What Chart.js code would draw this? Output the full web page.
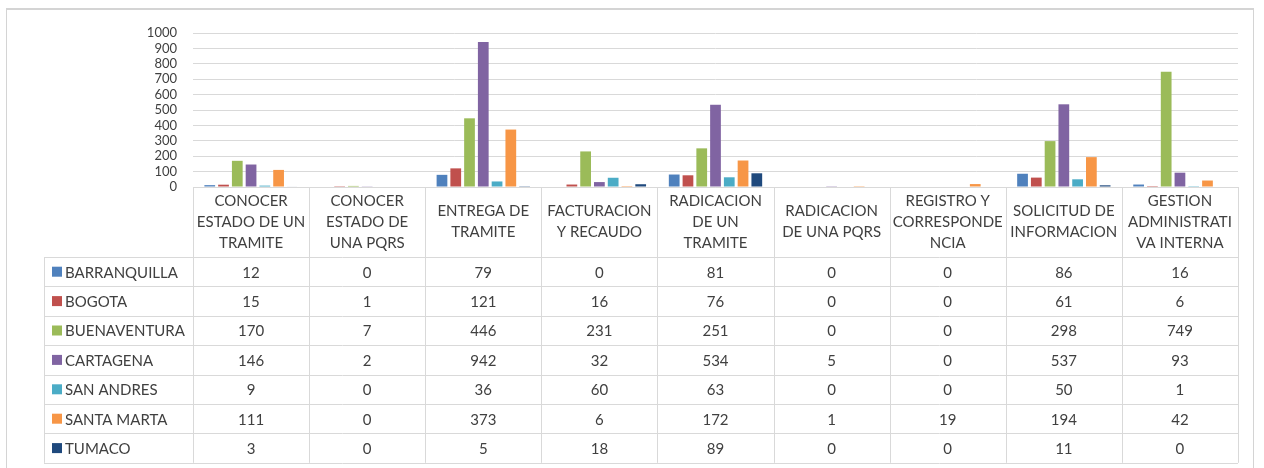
<!DOCTYPE html>
<html>
<head>
<meta charset="utf-8">
<script src="https://cdn.jsdelivr.net/npm/chart.js@4/dist/chart.umd.min.js"></script>
<style>
  body { margin: 0; background: #fff; }
  #marco { position: absolute; left: 6px; top: 8px; width: 1246px; height: 470px; border: 1px solid #d4d4d4; border-top-width: 2px; }
  #grafico { position: absolute; left: 0; top: 0; }
</style>
</head>
<body>
<div id="marco"></div>
<canvas id="grafico" width="1264" height="468"></canvas>
<script>
// categorias (ya partidas en lineas como en la tabla de Excel)
const categorias = [
  ['CONOCER', 'ESTADO DE UN', 'TRAMITE'],
  ['CONOCER', 'ESTADO DE', 'UNA PQRS'],
  ['ENTREGA DE', 'TRAMITE'],
  ['FACTURACION', 'Y RECAUDO'],
  ['RADICACION', 'DE UN', 'TRAMITE'],
  ['RADICACION', 'DE UNA PQRS'],
  ['REGISTRO Y', 'CORRESPONDE', 'NCIA'],
  ['SOLICITUD DE', 'INFORMACION'],
  ['GESTION', 'ADMINISTRATI', 'VA INTERNA']
];

const barranquilla = [12, 0, 79, 0, 81, 0, 0, 86, 16];
const bogota       = [15, 1, 121, 16, 76, 0, 0, 61, 6];
const buenaventura = [170, 7, 446, 231, 251, 0, 0, 298, 749];
const cartagena    = [146, 2, 942, 32, 534, 5, 0, 537, 93];
const sanAndres    = [9, 0, 36, 60, 63, 0, 0, 50, 1];
const santaMarta   = [111, 0, 373, 6, 172, 1, 19, 194, 42];
const tumaco       = [3, 0, 5, 18, 89, 0, 0, 11, 0];

const sedes = ['BARRANQUILLA', 'BOGOTA', 'BUENAVENTURA', 'CARTAGENA', 'SAN ANDRES', 'SANTA MARTA', 'TUMACO'];
const valores = [barranquilla, bogota, buenaventura, cartagena, sanAndres, santaMarta, tumaco];
const colores = ['#4F81BD', '#C0504D', '#9BBB59', '#8064A2', '#4BACC6', '#F79646', '#1F497D'];

const marcasY = [0, 100, 200, 300, 400, 500, 600, 700, 800, 900, 1000];

const FUENTE = 'Lato, "Open Sans", sans-serif';

// dibuja la tabla de datos debajo del grafico usando la escala x
const tablaDatos = {
  id: 'tablaDatos',
  afterDraw(chart) {
    const ctx = chart.ctx;
    const area = chart.chartArea;
    const xs = chart.scales.x;
    const paso = (area.right - area.left) / categorias.length;
    const arriba = Math.round(area.bottom);
    const altoCab = 70;
    const altoFila = 29.4;
    const izq = 44;
    const finCab = arriba + altoCab;
    const abajo = finCab + altoFila * sedes.length;

    ctx.save();
    ctx.strokeStyle = '#d9d9d9';
    ctx.lineWidth = 1;
    ctx.beginPath();
    // lineas horizontales
    ctx.moveTo(area.left, arriba + 0.5); ctx.lineTo(area.right, arriba + 0.5);
    for (let f = 0; f <= sedes.length; f++) {
      const y = Math.round(finCab + f * altoFila) + 0.5;
      ctx.moveTo(izq, y); ctx.lineTo(area.right, y);
    }
    // lineas verticales
    ctx.moveTo(izq + 0.5, finCab); ctx.lineTo(izq + 0.5, abajo);
    for (let c = 0; c <= categorias.length; c++) {
      const x = Math.round(area.left + c * paso) + 0.5;
      ctx.moveTo(x, arriba); ctx.lineTo(x, abajo);
    }
    ctx.stroke();

    ctx.fillStyle = '#404040';
    ctx.font = '15px ' + FUENTE;
    ctx.textAlign = 'center';
    ctx.textBaseline = 'middle';
    categorias.forEach((lineas, i) => {
      const cx = xs.getPixelForValue(i);
      const y0 = arriba + altoCab / 2 - (lineas.length - 1) * 21 / 2;
      lineas.forEach((t, k) => ctx.fillText(t, cx, y0 + k * 21));
    });

    sedes.forEach((nombre, f) => {
      const cy = finCab + f * altoFila + altoFila / 2;
      ctx.fillStyle = colores[f];
      ctx.fillRect(izq + 8, cy - 5, 10, 10);
      ctx.fillStyle = '#404040';
      ctx.textAlign = 'left';
      ctx.fillText(nombre, izq + 21, cy + 1);
      ctx.textAlign = 'center';
      valores[f].forEach((v, i) => {
        ctx.fillText(String(v), xs.getPixelForValue(i), cy + 1);
      });
    });
    ctx.restore();
  }
};

const ctx = document.getElementById('grafico');
const grafico = new Chart(ctx, {
  type: 'bar',
  data: {
    labels: categorias,
    datasets: sedes.map((nombre, i) => ({
      label: nombre,
      data: valores[i],
      backgroundColor: colores[i],
      borderWidth: 0,
      categoryPercentage: 0.83,
      barPercentage: 0.78
    }))
  },
  options: {
    responsive: false,
    animation: false,
    layout: { padding: { left: 0, top: 33, right: 26, bottom: 281 } },
    plugins: { legend: { display: false }, tooltip: { enabled: false } },
    scales: {
      x: { display: false },
      y: {
        min: 0,
        max: 1000,
        afterFit: (scale) => { scale.width = 193; },
        afterBuildTicks: (scale) => { scale.ticks = marcasY.map(v => ({ value: v })); },
        ticks: {
          autoSkip: false,
          padding: 16,
          color: '#404040',
          font: { family: FUENTE, size: 13 },
          callback: (v) => String(v)
        },
        grid: { color: '#d9d9d9', drawTicks: false },
        border: { display: false }
      }
    }
  },
  plugins: [tablaDatos]
});
</script>
</body>
</html>
